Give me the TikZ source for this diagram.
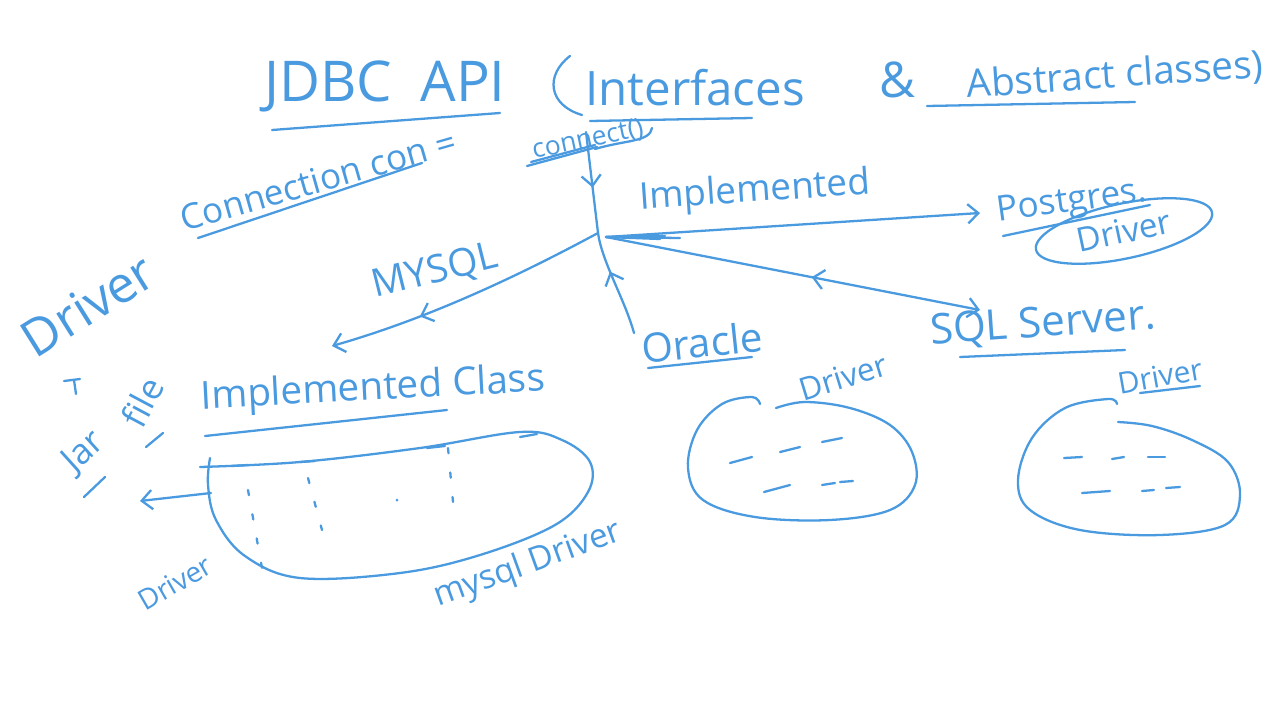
\documentclass[tikz,border=0pt]{standalone}
\usepackage{fontspec}
\setmainfont{Open Sans}
\usetikzlibrary{arrows.meta,decorations.markings,shapes.geometric}
\definecolor{ink}{RGB}{74,154,224}
\tikzset{
  hw/.style={text=ink, inner sep=0pt, font=\fontsize{#1}{#1}\selectfont},
  hw/.default=20,
  pen/.style={draw=ink, line width=1.3pt, line cap=round, line join=round},
  barb/.tip={Straight Barb[length=6pt,width=11pt]},
  arr/.style={pen, -barb},
  midarr/.style={postaction={decorate}, decoration={markings, mark=at position #1 with {\arrow[ink, line width=1.3pt]{barb}}}},
  midrev/.style={postaction={decorate}, decoration={markings, mark=at position #1 with {\arrowreversed[ink, line width=1.3pt]{barb}}}},
  dots/.style={pen, dash pattern=on 3pt off 11pt},
}
\begin{document}
\begin{tikzpicture}[x=0.02cm,y=-0.02cm]
\fill[white] (0,0) rectangle (1280,720);
\useasboundingbox (0,0) rectangle (1280,720);

% title line
\node[hw=32] (jdbc) at (385,86) {JDBC\hspace{0.5em}API};
\draw[pen] (272,130) -- (500,113);
\draw[pen] (570,56) .. controls (545,75) and (548,105) .. (582,115);
\node[hw=27] (intf) at (695,88) {Interfaces};
\draw[pen] (590,121) -- (752,118);
\node[hw=28] (amp) at (897,80) {\&};
\node[hw=22, rotate=4] (abs) at (1115,76) {Abstract classes)};
\draw[pen] (927,106) -- (1135,102);

% connection line
\node[hw=20, rotate=16] (conn) at (318,180) {Connection con =};
\draw[pen] (198,238) -- (422,163);
\node[hw=15, rotate=12] (connect) at (588,140) {connect()};
\draw[pen] (527,166) -- (597,147);
\draw[pen] (531,162) -- (595,145);
\draw[pen] (595,149) .. controls (625,140) and (650,142) .. (652,128);

\coordinate (cTop) at (586,132);
\coordinate (hub) at (598,233);
\coordinate (hubR) at (606,237);
\draw[pen, midarr=0.55] (cTop) -- (hub);
\node[hw=21, rotate=4] (impl) at (755,192) {Implemented};

% postgres
\node[hw=20, rotate=8] (pg) at (1072,203) {Postgres.};
\draw[pen] (1003,236) -- (1150,205);
\node[pen, hw=19, ellipse, rotate=12, minimum width=3.6cm, minimum height=1.1cm] (pgdrv) at (1124,231) {Driver};
\coordinate (pgEnd) at (980,213);
\draw[arr] (hubR) -- (pgEnd);
\coordinate (s1) at (680,238);
\coordinate (s2) at (665,236);
\coordinate (s3) at (660,239);
\draw[pen] (hubR) -- (s1);
\draw[pen] (hubR) -- (s2);
\draw[pen] (hubR) -- (s3);

% sql server
\node[hw=24, rotate=4] (sql) at (1043,325) {SQL Server.};
\draw[pen] (960,357) -- (1125,350);
\coordinate (sqlEnd) at (980,310);
\draw[arr, midrev=0.55] (hubR) -- (sqlEnd);

% mysql
\node[hw=22, rotate=14] (mysql) at (435,272) {MYSQL};
\coordinate (myEnd) at (332,346);
\draw[arr, midarr=0.68] (hub) .. controls (520,275) and (430,318) .. (myEnd);

% oracle
\node[hw=23, rotate=6] (oracle) at (702,342) {Oracle};
\draw[pen] (648,368) -- (752,357);
\coordinate (orStart) at (634,333);
\draw[pen, midarr=0.62] (orStart) .. controls (625,300) and (602,262) .. (hub);

% left side
\node[hw=29, rotate=32] (driverL) at (88,305) {Driver};
\draw[pen] (64,381) -- (80,379);
\draw[pen] (74,380) -- (76,394);
\node[hw=20, rotate=42] (jar) at (84,452) {Jar};
\node[hw=20, rotate=62] (file) at (142,402) {file};
\draw[pen] (146,447) -- (163,433);
\draw[pen] (84,497) -- (105,477);

% implemented class
\node[hw=22, rotate=3] (implc) at (373,390) {Implemented Class};
\draw[pen] (205,436) -- (447,410);
\draw[pen] plot[smooth, tension=0.6] coordinates {(200,467) (300,462) (420,448) (520,432) (562,440) (590,462) (588,492) (555,525) (480,555) (400,573) (300,578) (245,556) (216,520) (208,485) (210,458)};
\coordinate (blobL) at (211,493);
\coordinate (arrL) at (140,501);
\draw[arr] (blobL) -- (arrL);
\draw[dots] (248,490) -- (262,568);
\draw[dots] (308,478) -- (322,530);
\draw[dots] (448,448) -- (453,502);
\fill[ink] (397,500) circle (1.5);
\draw[pen] (232,466) -- (248,465);
\draw[pen] (300,462) -- (315,461);
\draw[pen] (427,448) -- (445,446);
\draw[pen] (520,437) -- (537,434);
\node[hw=16, rotate=30] (drvBL) at (175,583) {Driver};
\node[hw=19, rotate=20] (mysqlDrv) at (528,565) {mysql Driver};

% oracle driver blob
\node[hw=18, rotate=17] (drvM) at (843,377) {Driver};
\draw[pen] plot[smooth, tension=0.6] coordinates {(760,404) (752,397) (722,404) (697,430) (688,468) (703,500) (755,517) (830,520) (890,510) (915,485) (912,452) (890,425) (850,408) (805,402) (776,408)};
\draw[pen] (730,463) -- (752,457);
\draw[pen] (780,452) -- (800,447);
\draw[pen] (822,442) -- (842,438);
\draw[pen] (764,492) -- (790,485);
\draw[pen] (822,485) -- (835,483);
\draw[pen] (840,482) -- (853,481);

% sql server driver blob
\node[hw=17, rotate=10] (drvR) at (1160,376) {Driver};
\draw[pen] (1140,393) -- (1200,386);
\draw[pen] plot[smooth, tension=0.6] coordinates {(1117,404) (1108,399) (1065,408) (1032,438) (1018,480) (1030,510) (1080,530) (1160,535) (1225,525) (1240,495) (1228,462) (1192,440) (1152,426) (1118,422)};
\draw[pen] (1064,458) -- (1082,457);
\draw[pen] (1112,459) -- (1124,457);
\draw[pen] (1148,457) -- (1165,457);
\draw[pen] (1082,493) -- (1110,491);
\draw[pen] (1142,491) -- (1154,490);
\draw[pen] (1166,488) -- (1180,487);
\end{tikzpicture}
\end{document}
